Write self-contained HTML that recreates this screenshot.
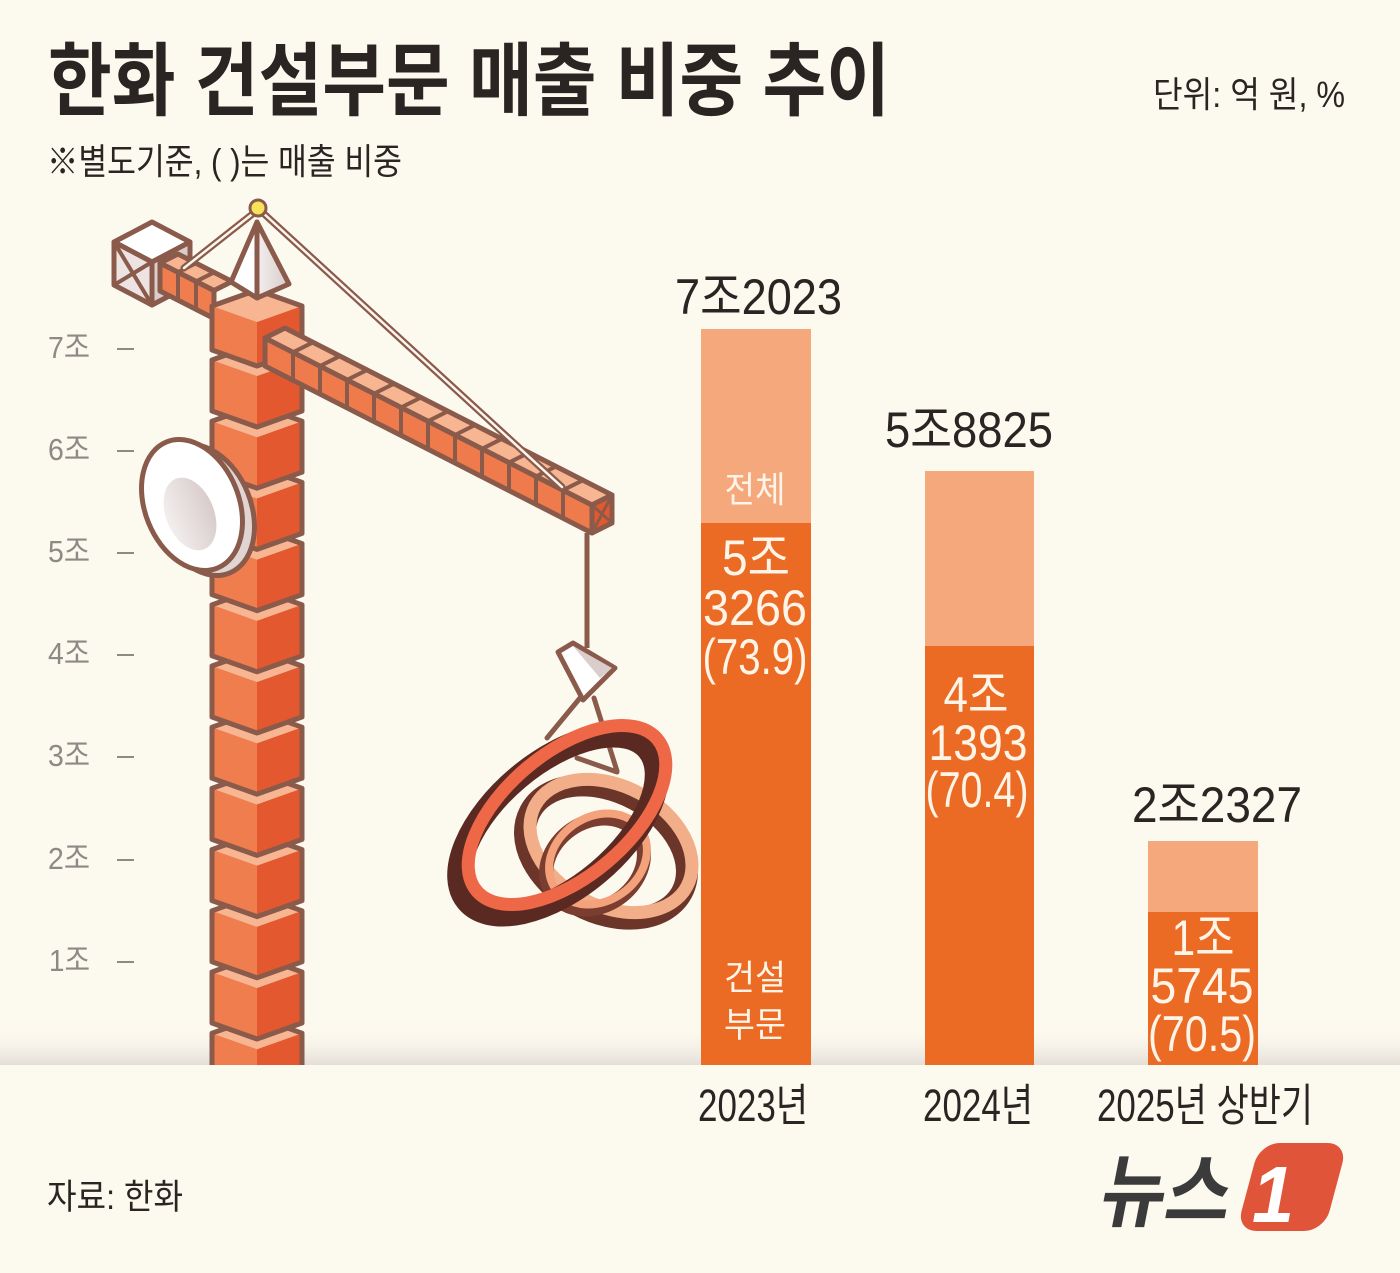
<!DOCTYPE html>
<html><head><meta charset="utf-8"><style>
html,body{margin:0;padding:0;background:#fcf9ef;}
svg{display:block}
text{font-family:"Liberation Sans","Noto Sans CJK KR",sans-serif;}
</style></head><body>
<svg width="1400" height="1273" viewBox="0 0 1400 1273" xmlns="http://www.w3.org/2000/svg">
<defs>
<linearGradient id="sh" x1="0" y1="0" x2="0" y2="1">
<stop offset="0" stop-color="#fcf9ef" stop-opacity="0"/>
<stop offset="1" stop-color="#e4ded6"/>
</linearGradient>
<linearGradient id="gr" x1="0" y1="0" x2="1" y2="0">
<stop offset="0" stop-color="#f3eeee"/>
<stop offset="1" stop-color="#d8cccb"/>
</linearGradient>
<clipPath id="cl"><rect x="0" y="0" width="1400" height="1065"/></clipPath>
<g id="blk">
<polygon points="212,0 257,-16 302,0 257,16" fill="#f7b592"/>
<polygon points="212,0 257,16 257,67 212,51" fill="#ef7d4e"/>
<polygon points="257,16 302,0 302,51 257,67" fill="#e4582f"/>
<polygon points="212,0 257,-16 302,0 302,51 257,67 212,51" fill="none" stroke="#8a5a4b" stroke-width="5" stroke-linejoin="round"/>
</g>
</defs>
<rect width="1400" height="1273" fill="#fcf9ef"/>
<rect x="0" y="1026" width="1400" height="39" fill="url(#sh)"/>

<!-- Title -->
<text x="48" y="109" font-size="80" font-weight="700" fill="#2a2523" textLength="842" lengthAdjust="spacingAndGlyphs">한화 건설부문 매출 비중 추이</text>
<text x="47" y="174" font-size="36" fill="#2a2523" textLength="355" lengthAdjust="spacingAndGlyphs">※별도기준, ( )는 매출 비중</text>
<text x="1153" y="107" font-size="36" fill="#2a2523" textLength="192" lengthAdjust="spacingAndGlyphs">단위: 억 원, %</text>
<text x="47" y="1209" font-size="35" fill="#2a2523" textLength="136" lengthAdjust="spacingAndGlyphs">자료: 한화</text>

<!-- Y axis -->
<g fill="#8e8984" font-size="31">
<text x="48" y="358" textLength="42" lengthAdjust="spacingAndGlyphs">7조</text>
<text x="48" y="460" textLength="42" lengthAdjust="spacingAndGlyphs">6조</text>
<text x="48" y="562" textLength="42" lengthAdjust="spacingAndGlyphs">5조</text>
<text x="48" y="664" textLength="42" lengthAdjust="spacingAndGlyphs">4조</text>
<text x="48" y="766" textLength="42" lengthAdjust="spacingAndGlyphs">3조</text>
<text x="48" y="869" textLength="42" lengthAdjust="spacingAndGlyphs">2조</text>
<text x="49" y="971" textLength="41" lengthAdjust="spacingAndGlyphs">1조</text>
</g>
<g stroke="#8e8984" stroke-width="2">
<line x1="117" y1="349" x2="134" y2="349"/>
<line x1="117" y1="451" x2="134" y2="451"/>
<line x1="117" y1="553" x2="134" y2="553"/>
<line x1="117" y1="655" x2="134" y2="655"/>
<line x1="117" y1="757" x2="134" y2="757"/>
<line x1="117" y1="860" x2="134" y2="860"/>
<line x1="117" y1="962" x2="134" y2="962"/>
</g>

<!-- Crane -->
<g clip-path="url(#cl)" stroke-linejoin="round">
<polygon points="114,242 152,222 190,242 152,262" fill="#ffffff" stroke="#8a5a4b" stroke-width="5"/>
<polygon points="114,242 152,262 152,305 114,285" fill="#ece3e2" stroke="#8a5a4b" stroke-width="5"/>
<polygon points="152,262 190,242 190,285 152,305" fill="#d9cecc" stroke="#8a5a4b" stroke-width="5"/>
<path d="M114,242 L152,305 M152,262 L114,285" stroke="#8a5a4b" stroke-width="4"/>
<polygon points="160,263 214,290.5 214,318.5 160,291" fill="#ef7d4e" stroke="#8a5a4b" stroke-width="5"/>
<polygon points="160,263 178,254 232,281.5 214,290.5" fill="#f7b592" stroke="#8a5a4b" stroke-width="5"/>
<path d="M178,272.2V300.2M178,272.2l18,-9M196,281.4V309.4M196,281.4l18,-9" stroke="#8a5a4b" stroke-width="4"/>
<use href="#blk" transform="translate(0,1033.2)"/>
<use href="#blk" transform="translate(0,972)"/>
<use href="#blk" transform="translate(0,910.8)"/>
<use href="#blk" transform="translate(0,849.6)"/>
<use href="#blk" transform="translate(0,788.4)"/>
<use href="#blk" transform="translate(0,727.2)"/>
<use href="#blk" transform="translate(0,666)"/>
<use href="#blk" transform="translate(0,604.8)"/>
<use href="#blk" transform="translate(0,543.6)"/>
<use href="#blk" transform="translate(0,482.4)"/>
<use href="#blk" transform="translate(0,421.2)"/>
<use href="#blk" transform="translate(0,360)"/>
<polygon points="212,306 257,290 302,306 257,322" fill="#f7b592"/>
<polygon points="212,306 257,322 257,366 212,350" fill="#ef7d4e"/>
<polygon points="257,322 302,306 302,350 257,366" fill="#e4582f"/>
<polygon points="212,306 257,290 302,306 302,350 257,366 212,350" fill="none" stroke="#8a5a4b" stroke-width="5"/>
<polygon points="257,222 231,282 257,298" fill="#ffffff" stroke="#8a5a4b" stroke-width="5"/>
<polygon points="257,222 257,298 289,284" fill="url(#gr)" stroke="#8a5a4b" stroke-width="5"/>
<polygon points="265,338 592,505 592,533 265,366" fill="#ef7a4b" stroke="#8a5a4b" stroke-width="5"/>
<polygon points="265,338 285,328 612,495 592,505" fill="#f7b592" stroke="#8a5a4b" stroke-width="5"/>
<polygon points="592,505 612,495 612,523 592,533" fill="#e4582f" stroke="#8a5a4b" stroke-width="5"/>
<path d="M592,505L612,523M612,495L592,533" stroke="#8a5a4b" stroke-width="3"/>
<path d="M293 352.3V380.3M293 352.3l20 -10M320 366.1V394.1M320 366.1l20 -10M347 379.9V407.9M347 379.9l20 -10M374 393.7V421.7M374 393.7l20 -10M401 407.5V435.5M401 407.5l20 -10M428 421.2V449.2M428 421.2l20 -10M455 435V463M455 435l20 -10M482 448.8V476.8M482 448.8l20 -10M509 462.6V490.6M509 462.6l20 -10M536 476.4V504.4M536 476.4l20 -10M563 490.2V518.2M563 490.2l20 -10" stroke="#8a5a4b" stroke-width="4" fill="none"/>
<path d="M255,212 L184,268 M262,212 L562,487" stroke="#8a5a4b" stroke-width="7" stroke-linecap="round" fill="none"/>
<path d="M255,212 L184,268 M262,212 L562,487" stroke="#fdf6ee" stroke-width="2.5" stroke-linecap="round" fill="none"/>
<circle cx="258" cy="208" r="8" fill="#f7e35a" stroke="#8a5a4b" stroke-width="3"/>
<ellipse cx="204" cy="510" rx="47" ry="68" transform="rotate(-22 204 510)" fill="#e0d5d2" stroke="#8a5a4b" stroke-width="5"/>
<ellipse cx="192" cy="505" rx="47" ry="68" transform="rotate(-22 192 505)" fill="#ffffff" stroke="#8a5a4b" stroke-width="5"/>
<ellipse cx="190" cy="514" rx="24" ry="38" transform="rotate(-22 190 514)" fill="url(#gr)"/>
<line x1="587" y1="533" x2="587" y2="648" stroke="#8a5a4b" stroke-width="5"/>
<path d="M580,698 L547,738 M594,698 L617,771 M577,758 L617,772" stroke="#8a5a4b" stroke-width="5" stroke-linecap="round" fill="none"/>
<polygon points="558,652 573,643 615,668 583,700" fill="#ffffff" stroke="#8a5a4b" stroke-width="5"/>
<polygon points="573,646 612,668 600,678" fill="#d9cecc"/>
<ellipse cx="606" cy="852" rx="86" ry="60" transform="rotate(28 606 852)" fill="none" stroke="#6b3529" stroke-width="22"/>
<ellipse cx="611" cy="846" rx="86" ry="60" transform="rotate(28 611 846)" fill="none" stroke="#f2ae88" stroke-width="13"/>
<ellipse cx="595" cy="864" rx="52" ry="42" transform="rotate(-35 595 864)" fill="none" stroke="#7a3d2f" stroke-width="14"/>
<ellipse cx="598" cy="859" rx="52" ry="42" transform="rotate(-35 598 859)" fill="none" stroke="#f3a27c" stroke-width="8"/>
<ellipse cx="558" cy="825" rx="118" ry="62" transform="rotate(-40 558 825)" fill="none" stroke="#5a2a22" stroke-width="24"/>
<ellipse cx="567" cy="815" rx="118" ry="62" transform="rotate(-40 567 815)" fill="none" stroke="#ee6847" stroke-width="13"/>
</g>

<!-- Bars -->
<rect x="701" y="329" width="110" height="194" fill="#f5a87c"/>
<rect x="701" y="523" width="110" height="542" fill="#eb6b25"/>
<rect x="925" y="471" width="109" height="175" fill="#f5a87c"/>
<rect x="925" y="646" width="109" height="419" fill="#eb6b25"/>
<rect x="1148" y="841" width="110" height="71" fill="#f5a87c"/>
<rect x="1148" y="912" width="110" height="153" fill="#eb6b25"/>

<!-- Top labels -->
<g fill="#2a2523" font-size="50">
<text x="675" y="314" textLength="167" lengthAdjust="spacingAndGlyphs">7조2023</text>
<text x="885" y="447" textLength="168" lengthAdjust="spacingAndGlyphs">5조8825</text>
<text x="1132" y="822" textLength="170" lengthAdjust="spacingAndGlyphs">2조2327</text>
</g>

<!-- In-bar labels -->
<g fill="#fff4e8" text-anchor="middle">
<text x="755" y="502" font-size="36" textLength="61" lengthAdjust="spacingAndGlyphs">전체</text>
<text x="756" y="575" font-size="50" textLength="68" lengthAdjust="spacingAndGlyphs">5조</text>
<text x="755" y="625" font-size="50" textLength="104" lengthAdjust="spacingAndGlyphs">3266</text>
<text x="755" y="674" font-size="50" textLength="105" lengthAdjust="spacingAndGlyphs">(73.9)</text>
<text x="755" y="990" font-size="35" textLength="62" lengthAdjust="spacingAndGlyphs">건설</text>
<text x="755" y="1037" font-size="35" textLength="62" lengthAdjust="spacingAndGlyphs">부문</text>
<text x="976" y="712" font-size="50" textLength="65" lengthAdjust="spacingAndGlyphs">4조</text>
<text x="978" y="760" font-size="50" textLength="99" lengthAdjust="spacingAndGlyphs">1393</text>
<text x="977" y="807" font-size="50" textLength="103" lengthAdjust="spacingAndGlyphs">(70.4)</text>
<text x="1203" y="955" font-size="50" textLength="63" lengthAdjust="spacingAndGlyphs">1조</text>
<text x="1202" y="1003" font-size="50" textLength="103" lengthAdjust="spacingAndGlyphs">5745</text>
<text x="1202" y="1051" font-size="50" textLength="108" lengthAdjust="spacingAndGlyphs">(70.5)</text>
</g>

<!-- Category labels -->
<g fill="#2a2523" font-size="45">
<text x="698" y="1121" textLength="110" lengthAdjust="spacingAndGlyphs">2023년</text>
<text x="923" y="1121" textLength="110" lengthAdjust="spacingAndGlyphs">2024년</text>
<text x="1097" y="1121" textLength="216" lengthAdjust="spacingAndGlyphs">2025년 상반기</text>
</g>

<!-- Logo -->
<g transform="translate(0,1220) skewX(-11) translate(0,-1220)">
<text x="1097" y="1220" font-size="80" font-weight="700" fill="#3b3b3b" textLength="130" lengthAdjust="spacingAndGlyphs">뉴스</text>
</g>
<rect x="-45" y="-44" width="88" height="88" rx="20" fill="#e0553a" transform="translate(1293,1187) skewX(-15)"/>
<text x="1252" y="1222" font-size="80" font-weight="700" font-style="italic" fill="#ffffff" textLength="42" lengthAdjust="spacingAndGlyphs">1</text>
</svg>
</body></html>
